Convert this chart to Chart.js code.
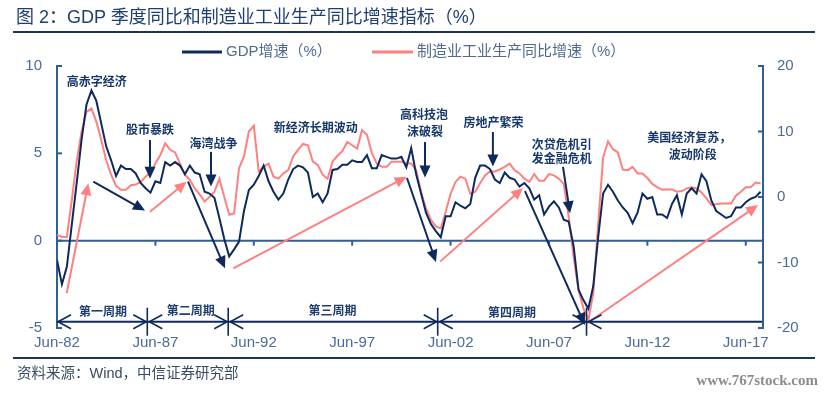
<!DOCTYPE html>
<html><head><meta charset="utf-8">
<script src="https://cdn.jsdelivr.net/npm/chart.js@4/dist/chart.umd.min.js"></script>
<style>
html,body{margin:0;padding:0;background:#fff;}
#wrap{position:relative;width:831px;height:394px;overflow:hidden;background:#fff;}
canvas{position:absolute;left:0;top:0;}
.t{position:absolute;white-space:nowrap;font-family:"Liberation Sans","Noto Sans CJK SC",sans-serif;}
</style></head><body>
<div id="wrap">
<canvas id="c" width="831" height="394"></canvas>
<div class="t" style="left:16px;top:7px;font-size:18px;line-height:20px;color:#1F3F73;">图 2：GDP 季度同比和制造业工业生产同比增速指标（%）</div>
<div style="position:absolute;left:13px;top:31px;width:802px;height:2px;background:#1B365D"></div>
<div style="position:absolute;left:13px;top:357px;width:802px;height:2px;background:#1B365D"></div>
<div class="t" style="left:17px;top:365px;font-size:14.5px;line-height:16px;color:#3A4A60;">资料来源：Wind，中信证券研究部</div>
<div class="t" style="right:13px;top:372px;font-size:15px;line-height:16px;color:#8C8C8C;font-weight:bold;font-family:'Liberation Serif',serif;">www.767stock.com</div>
</div>
<script>
// ---- data (quarterly, Jun-82 .. Mar-18) ----
const gdpGrowth = [
 -1.1,-2.5,-1.5,0.9,3.3,5.8,7.8,8.6,8.0,6.7,
 5.4,4.6,3.7,4.3,4.1,4.1,3.85,3.3,3.0,2.75,
 3.4,3.3,4.5,4.3,4.5,4.3,3.8,4.3,3.9,3.8,
 2.8,2.7,2.45,1.3,0.1,-0.9,-0.5,-0.05,1.7,2.9,
 3.2,3.7,4.3,3.4,2.8,2.35,2.7,3.5,4.1,4.3,
 4.2,3.9,2.5,2.7,2.2,2.7,4.05,4.1,4.35,4.35,
 4.6,4.5,4.5,4.9,4.15,4.15,4.9,4.8,4.7,4.7,
 4.8,4.2,5.3,3.8,2.7,1.6,0.95,0.55,0.2,1.4,
 1.4,2.2,2.0,1.85,2.1,3.6,4.3,4.3,4.1,3.5,
 3.3,3.9,3.6,3.5,3.1,3.3,3.0,2.35,2.6,1.5,
 1.95,2.25,1.9,1.2,1.1,-0.3,-2.8,-3.4,-3.9,-2.6,
 0.2,2.7,3.2,2.8,2.3,1.9,1.6,1.0,1.6,2.7,
 2.4,2.5,1.5,1.5,1.3,2.1,2.6,1.5,2.7,3.0,
 2.7,3.8,3.4,2.3,1.7,1.5,1.3,1.4,1.9,1.9,
 2.2,2.4,2.5,2.8
];
const mfgGrowth = [
 -5.8,-6.1,-6.1,-0.5,5.5,10.0,13.0,13.5,11.5,8.7,
 5.6,3.4,1.7,1.1,1.1,1.8,1.9,2.3,3.1,3.7,
 5.1,6.4,8.2,7.2,6.8,5.1,3.4,2.6,1.3,0.4,
 -0.7,0.0,0.8,2.8,0.0,-2.7,-2.5,4.4,6.2,10.0,
 10.9,3.9,4.6,5.1,3.1,2.8,3.6,4.1,6.2,7.2,
 8.1,7.9,5.4,4.9,3.4,2.8,5.4,6.3,7.0,8.4,
 7.9,7.4,10.2,9.5,6.7,5.1,4.6,4.6,5.4,5.4,
 5.4,5.1,5.1,4.1,0.8,-1.75,-3.5,-4.5,-4.8,-2.3,
 0.5,2.3,3.1,2.8,0.5,0.8,2.1,3.3,3.9,3.9,
 4.2,4.6,5.1,4.1,3.6,2.8,2.3,3.5,2.5,2.5,
 3.5,3.3,2.8,2.0,-3.0,-9.1,-14.2,-17.0,-18.8,-14.7,
 -4.0,6.0,8.5,7.3,6.8,4.2,4.1,4.6,3.6,3.6,
 2.9,2.0,1.5,1.1,1.15,1.15,0.8,0.9,1.3,1.5,
 1.3,0.7,-0.2,-1.2,-1.1,-1.0,-1.0,-1.0,0.2,0.8,
 1.5,1.5,2.2,2.1
];
const seriesNames = ['GDP增速（%）','制造业工业生产同比增速（%）'];
const tickLabels = ['Jun-82','Jun-87','Jun-92','Jun-97','Jun-02','Jun-07','Jun-12','Jun-17'];
const leftTicks = [-5,0,5,10];
const rightTicks = [-20,-10,0,10,20];

// quarter categories
const qMonths = ['Jun','Sep','Dec','Mar'];
const quarters = gdpGrowth.map((_,i)=>{
  const yr = 1982 + Math.floor((i+1)/4);
  return qMonths[i%4] + '-' + String(yr%100).padStart(2,'0');
});

// ---- annotations (x: quarter index, y: left-axis value) ----
const notes = [
 {t:'高赤字经济', x:8.1, y:9.14},
 {t:'股市暴跌', x:18.9, y:6.34},
 {t:'海湾战争', x:31.8, y:5.58},
 {t:'新经济长期波动', x:52.6, y:6.49},
 {t:'高科技泡', x:74.6, y:7.2},
 {t:'沫破裂', x:74.8, y:6.25},
 {t:'房地产繁荣', x:88.7, y:6.78},
 {t:'次贷危机引', x:102.6, y:5.5},
 {t:'发金融危机', x:102.6, y:4.72},
 {t:'美国经济复苏，', x:128.5, y:5.9},
 {t:'波动阶段', x:129.2, y:4.96}
];
const cycleNames = [
 {t:'第一周期', x:9.35, y:-4.06},
 {t:'第二周期', x:27.2, y:-4.02},
 {t:'第三周期', x:56.0, y:-4.02},
 {t:'第四周期', x:92.5, y:-4.12}
];
const cycleBounds = [0, 18.35, 34.8, 77.38, 107.63];
const cycleY = -4.64;
const darkArrows = [
 [18.9,5.76,18.9,3.55],
 [31.3,5.08,31.3,3.10],
 [74.8,5.65,74.8,3.62],
 [88.6,6.22,88.6,4.25],
 [102.85,4.22,104.27,1.57],
 [7.38,3.38,17.89,1.72],
 [26.63,3.38,34.15,-1.58],
 [71.14,3.59,77.03,-1.22],
 [95.12,2.84,107.3,-4.83]
];
const pinkArrows = [
 [1.97,-3.01,6.36,3.29],
 [18.9,1.66,26.36,3.38],
 [35.83,-1.58,71.08,3.66],
 [77.85,-1.2,94.72,3.02],
 [107.7,-4.73,142.5,2.04]
];

const DARK = '#0E2A5C', PINK = '#FF8080', AXIS = '#2F5F95', TICK = '#4A6B98';
const LATIN = '"Liberation Sans","Noto Sans CJK SC",sans-serif';
const CJKB = 'bold 12px "Noto Sans CJK SC",sans-serif';

function arrow(ctx,x1,y1,x2,y2,color,w,hl,hw){
  const a=Math.atan2(y2-y1,x2-x1), c=Math.cos(a), s=Math.sin(a);
  ctx.strokeStyle=color; ctx.lineWidth=w; ctx.lineCap='butt';
  ctx.beginPath(); ctx.moveTo(x1,y1); ctx.lineTo(x2-c*hl*0.7,y2-s*hl*0.7); ctx.stroke();
  ctx.fillStyle=color; ctx.beginPath(); ctx.moveTo(x2,y2);
  ctx.lineTo(x2-hl*c+hw*s, y2-hl*s-hw*c);
  ctx.lineTo(x2-hl*c-hw*s, y2-hl*s+hw*c);
  ctx.closePath(); ctx.fill();
}

const deco = {
  id:'deco',
  beforeDatasetsDraw(chart){
    const {ctx, chartArea:a, scales:{x,yL,yR}} = chart;
    ctx.save();
    ctx.strokeStyle=AXIS; ctx.lineWidth=2;
    const y0 = yL.getPixelForValue(0);
    ctx.beginPath(); ctx.moveTo(a.left,y0); ctx.lineTo(a.right,y0); ctx.stroke();
    x.ticks.forEach(t=>{
      const px = x.getPixelForValue(t.value);
      ctx.beginPath(); ctx.moveTo(px,y0); ctx.lineTo(px,y0+5); ctx.stroke();
    });
    leftTicks.forEach(v=>{
      const py=yL.getPixelForValue(v);
      ctx.beginPath(); ctx.moveTo(a.left,py); ctx.lineTo(a.left+5,py); ctx.stroke();
    });
    rightTicks.forEach(v=>{
      const py=yR.getPixelForValue(v);
      ctx.beginPath(); ctx.moveTo(a.right,py); ctx.lineTo(a.right-5,py); ctx.stroke();
    });
    ctx.restore();
  },
  afterDatasetsDraw(chart){
    const {ctx, chartArea:a, scales:{x,yL}} = chart;
    const X=v=>x.getPixelForValue(v), Y=v=>yL.getPixelForValue(v);
    ctx.save();
    darkArrows.forEach(d=>arrow(ctx,X(d[0]),Y(d[1]),X(d[2]),Y(d[3]),DARK,2,12,5.5));
    pinkArrows.forEach(d=>arrow(ctx,X(d[0]),Y(d[1]),X(d[2]),Y(d[3]),PINK,2,12,5.5));
    // cycles
    const cy = Y(cycleY);
    ctx.strokeStyle=DARK; ctx.lineWidth=2;
    ctx.beginPath(); ctx.moveTo(a.left,cy); ctx.lineTo(a.right-1,cy); ctx.stroke();
    ctx.lineWidth=1.6;
    cycleBounds.forEach((b,i)=>{
      const px=X(b);
      if(i>0){
        ctx.beginPath(); ctx.moveTo(px,cy-14); ctx.lineTo(px,cy+14); ctx.stroke();
        ctx.beginPath(); ctx.moveTo(px-14,cy-7); ctx.lineTo(px-1,cy); ctx.lineTo(px-14,cy+7); ctx.stroke();
      }
      ctx.beginPath(); ctx.moveTo(px+(i?15:14),cy-7); ctx.lineTo(px+(i?2:1),cy); ctx.lineTo(px+(i?15:14),cy+7); ctx.stroke();
    });
    ctx.font=CJKB; ctx.textAlign='center'; ctx.textBaseline='middle';
    ctx.fillStyle='#1F3D6E';
    cycleNames.forEach(n=>ctx.fillText(n.t,X(n.x),Y(n.y)));
    ctx.fillStyle='#17386B';
    notes.forEach(n=>ctx.fillText(n.t,X(n.x),Y(n.y)));
    // legend
    const ds = chart.data.datasets;
    const lg = [{x1:182,x2:222,tx:226},{x1:372,x2:413,tx:417}];
    ctx.font='15px '+LATIN; ctx.textAlign='left';
    ds.forEach((d,i)=>{
      ctx.strokeStyle=d.borderColor; ctx.lineWidth=3;
      ctx.beginPath(); ctx.moveTo(lg[i].x1,52); ctx.lineTo(lg[i].x2,52); ctx.stroke();
      ctx.fillStyle='#4F6A8F'; ctx.fillText(d.label,lg[i].tx,52);
    });
    ctx.restore();
  }
};

new Chart(document.getElementById('c'),{
  type:'line',
  data:{datasets:[
    {label:seriesNames[0], data:gdpGrowth.map((v,i)=>({x:i,y:v})), yAxisID:'yL',
     borderColor:DARK, borderWidth:2, pointRadius:0, tension:0, fill:false},
    {label:seriesNames[1], data:mfgGrowth.map((v,i)=>({x:i,y:v})), yAxisID:'yR',
     borderColor:PINK, borderWidth:2, pointRadius:0, tension:0, fill:false}
  ]},
  options:{
    responsive:false, animation:false, devicePixelRatio:1,
    layout:{padding:{top:66,left:0,right:0,bottom:0}},
    plugins:{legend:{display:false}, tooltip:{enabled:false}},
    scales:{
      x:{type:'linear', min:0, max:143.5,
        afterBuildTicks:s=>{ s.ticks = tickLabels.map(l=>({value:quarters.indexOf(l)})); },
        ticks:{callback:v=>quarters[v], color:TICK, font:{size:15,family:LATIN}, padding:6, maxRotation:0, autoSkip:false},
        grid:{display:false, drawTicks:false}, border:{display:false},
        afterFit:s=>{s.height=66;}},
      yL:{type:'linear', position:'left', min:-5, max:10,
        afterBuildTicks:s=>{ s.ticks = leftTicks.map(v=>({value:v})); },
        ticks:{color:TICK, font:{size:15,family:LATIN}, padding:15},
        grid:{display:false, drawTicks:false}, border:{display:true,color:AXIS,width:2},
        afterFit:s=>{s.width=57;}},
      yR:{type:'linear', position:'right', min:-20, max:20,
        afterBuildTicks:s=>{ s.ticks = rightTicks.map(v=>({value:v})); },
        ticks:{color:TICK, font:{size:15,family:LATIN}, padding:14},
        grid:{display:false, drawTicks:false}, border:{display:true,color:AXIS,width:2},
        afterFit:s=>{s.width=68;}}
    }
  },
  plugins:[deco]
});
</script>
</body></html>
